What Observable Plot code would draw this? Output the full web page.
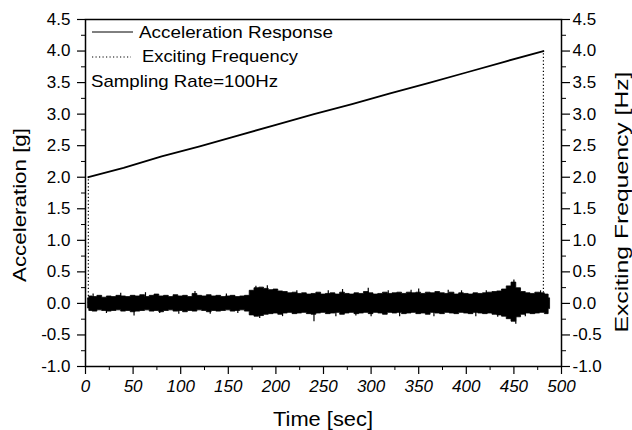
<!DOCTYPE html>
<html>
<head>
<meta charset="utf-8">
<script src="https://cdn.jsdelivr.net/npm/d3@7"></script>
<script src="https://cdn.jsdelivr.net/npm/@observablehq/plot@0.6"></script>
<style>
  html, body { margin: 0; padding: 0; background: white; }
</style>
</head>
<body>
<div id="chart"></div>
<script>
// ---- Data ----
// Acceleration response (100 Hz record) drawn as its visible envelope
const accTime = [3, 5, 10, 15, 20, 25, 30, 35, 40, 45, 50, 55, 60, 65, 70, 75, 80, 85, 90, 95,
  100, 105, 110, 115, 120, 125, 130, 135, 140, 145, 150, 155, 160, 165, 170, 175, 180, 185, 190, 195,
  200, 205, 210, 215, 220, 225, 230, 235, 240, 245, 250, 255, 260, 265, 270, 275, 280, 285, 290, 295,
  300, 305, 310, 315, 320, 325, 330, 335, 340, 345, 350, 355, 360, 365, 370, 375, 380, 385, 390, 395,
  400, 405, 410, 415, 420, 425, 430, 435, 440, 445, 450, 455, 460, 465, 470, 475, 480, 485, 488];
const accUpper = [0.08, 0.11, 0.10, 0.12, 0.09, 0.11, 0.10, 0.12, 0.11, 0.10, 0.12, 0.11, 0.13, 0.10, 0.12, 0.14, 0.11, 0.12, 0.10, 0.13,
  0.11, 0.12, 0.10, 0.15, 0.12, 0.11, 0.13, 0.11, 0.12, 0.10, 0.11, 0.12, 0.10, 0.11, 0.12, 0.20, 0.24, 0.25, 0.23, 0.21,
  0.22, 0.19, 0.18, 0.16, 0.17, 0.15, 0.16, 0.14, 0.15, 0.17, 0.14, 0.15, 0.16, 0.14, 0.17, 0.15, 0.14, 0.16, 0.15, 0.18,
  0.16, 0.14, 0.15, 0.17, 0.15, 0.16, 0.17, 0.15, 0.17, 0.16, 0.17, 0.15, 0.17, 0.16, 0.18, 0.16, 0.15, 0.17, 0.14, 0.16,
  0.15, 0.14, 0.16, 0.15, 0.16, 0.17, 0.18, 0.19, 0.22, 0.27, 0.33, 0.24, 0.18, 0.16, 0.15, 0.17, 0.16, 0.14, 0.08];
const accLower = [-0.08, -0.12, -0.13, -0.11, -0.12, -0.13, -0.12, -0.11, -0.13, -0.12, -0.14, -0.13, -0.12, -0.11, -0.13, -0.12, -0.14, -0.12, -0.11, -0.13,
  -0.12, -0.14, -0.12, -0.13, -0.11, -0.12, -0.14, -0.12, -0.13, -0.12, -0.11, -0.13, -0.12, -0.11, -0.13, -0.19, -0.21, -0.20, -0.18, -0.17,
  -0.16, -0.18, -0.16, -0.15, -0.17, -0.16, -0.15, -0.17, -0.18, -0.16, -0.15, -0.17, -0.16, -0.15, -0.18, -0.16, -0.15, -0.17, -0.16, -0.15,
  -0.17, -0.15, -0.16, -0.18, -0.15, -0.16, -0.15, -0.17, -0.16, -0.15, -0.17, -0.16, -0.18, -0.15, -0.16, -0.17, -0.15, -0.16, -0.17, -0.15,
  -0.16, -0.17, -0.15, -0.16, -0.17, -0.16, -0.18, -0.19, -0.21, -0.25, -0.29, -0.22, -0.18, -0.16, -0.17, -0.16, -0.15, -0.17, -0.09];

// Individual spikes visible on the band edges (time, peak g)
const spikeTime  = [8, 22, 37, 51, 63, 78, 98, 115, 131, 148, 160, 179, 183, 191, 207, 222, 240, 255, 263, 270, 284, 297, 300, 318, 330, 342, 350, 366, 381, 395, 410, 421, 433, 450, 452, 462, 478];
const spikeValue = [0.15, -0.16, 0.16, -0.20, 0.17, -0.16, -0.17, 0.19, -0.17, 0.15, -0.16, 0.27, -0.24, 0.28, -0.21, 0.20, -0.29, 0.20, -0.21, 0.22, -0.20, 0.24, -0.21, 0.20, -0.21, 0.21, 0.23, -0.21, 0.21, 0.20, -0.21, 0.20, -0.22, 0.37, -0.33, -0.21, 0.20];

// Exciting frequency sweep (Hz)
const freqTime  = [3, 40, 80, 120, 160, 200, 240, 280, 320, 360, 400, 440, 481];
const freqValue = [2.00, 2.15, 2.33, 2.49, 2.66, 2.83, 3.00, 3.16, 3.33, 3.49, 3.66, 3.83, 4.00];

// Axes
const xTicks = [0, 50, 100, 150, 200, 250, 300, 350, 400, 450, 500];
const xMinor = [25, 75, 125, 175, 225, 275, 325, 375, 425, 475];
const yTicks = [-1.0, -0.5, 0.0, 0.5, 1.0, 1.5, 2.0, 2.5, 3.0, 3.5, 4.0, 4.5];
const yMinor = [-0.75, -0.25, 0.25, 0.75, 1.25, 1.75, 2.25, 2.75, 3.25, 3.75, 4.25];

// Text
const xTitle = "Time [sec]";
const yTitleLeft = "Acceleration [g]";
const yTitleRight = "Exciting Frequency [Hz]";
const legendSeries = ["Acceleration Response", "Exciting Frequency"];
const legendNote = "Sampling Rate=100Hz";

// ---- Build tables ----
const acc = accTime.map((t, i) => ({t, hi: accUpper[i], lo: accLower[i]}));
const spikes = spikeTime.map((t, i) => ({t, v: spikeValue[i]}));
const ramp = freqTime.map((t, i) => ({t, f: freqValue[i]}));
const drops = [ramp[0], ramp[ramp.length - 1]];

const font = "'Liberation Sans', Arial, Helvetica, sans-serif";

const chart = Plot.plot({
  width: 632,
  height: 430,
  marginLeft: 85,
  marginRight: 71,
  marginTop: 19,
  marginBottom: 64,
  x: {domain: [0, 500]},
  y: {domain: [-1, 4.5]},
  style: {fontFamily: font, fontSize: "17px", color: "black", background: "white", overflow: "visible"},
  marks: [
    Plot.areaY(acc, {x: "t", y1: "lo", y2: "hi", fill: "black", stroke: "black", strokeWidth: 0.8, curve: "step"}),
    Plot.ruleX(spikes, {x: "t", y1: 0, y2: "v", stroke: "black", strokeWidth: 1.2}),
    Plot.ruleX(drops, {x: "t", y1: 0, y2: "f", stroke: "black", strokeWidth: 1.2, strokeDasharray: "1.2,2.3"}),
    Plot.line(ramp, {x: "t", y: "f", stroke: "black", strokeWidth: 1.8}),
    Plot.axisX({ticks: xTicks, tickSize: 8, tickPadding: 5, tickFormat: d => String(d), label: null, strokeWidth: 1.2}),
    Plot.axisX({ticks: xMinor, tickSize: 4, tickFormat: () => "", label: null}),
    Plot.axisY({anchor: "left", ticks: yTicks, tickSize: 8, tickPadding: 7, tickFormat: d => d.toFixed(1), label: null, strokeWidth: 1.2}),
    Plot.axisY({anchor: "left", ticks: yMinor, tickSize: 4, tickFormat: () => "", label: null}),
    Plot.axisY({anchor: "right", ticks: yTicks, tickSize: 8, tickPadding: 3, tickFormat: d => d.toFixed(1), label: null, strokeWidth: 1.2}),
    Plot.axisY({anchor: "right", ticks: yMinor, tickSize: 4, tickFormat: () => "", label: null}),
    Plot.frame({stroke: "black", strokeWidth: 1.5})
  ]
});

document.getElementById("chart").appendChild(chart);

const svg = d3.select(chart);
// italic x tick labels as in the reference
svg.selectAll('g[aria-label="x-axis tick label"] text').style("font-style", "italic");

// ---- Titles and legend ----
const g = svg.append("g").attr("font-family", font).attr("fill", "black").attr("text-anchor", "start");

g.append("text").text(xTitle)
  .attr("x", 323).attr("y", 426).attr("text-anchor", "middle")
  .attr("font-size", 20).attr("textLength", 100).attr("lengthAdjust", "spacingAndGlyphs");

g.append("text").text(yTitleLeft)
  .attr("transform", "translate(26,205) rotate(-90)").attr("text-anchor", "middle")
  .attr("font-size", 19).attr("textLength", 154).attr("lengthAdjust", "spacingAndGlyphs");

g.append("text").text(yTitleRight)
  .attr("transform", "translate(628,202) rotate(-90)").attr("text-anchor", "middle")
  .attr("font-size", 19).attr("textLength", 261).attr("lengthAdjust", "spacingAndGlyphs");

// legend
g.append("line").attr("x1", 92).attr("x2", 133).attr("y1", 32).attr("y2", 32)
  .attr("stroke", "black").attr("stroke-width", 1);
g.append("text").text(legendSeries[0]).attr("x", 139).attr("y", 38).attr("text-anchor", "start")
  .attr("font-size", 17).attr("textLength", 194).attr("lengthAdjust", "spacingAndGlyphs");

g.append("line").attr("x1", 92).attr("x2", 131).attr("y1", 57).attr("y2", 57)
  .attr("stroke", "black").attr("stroke-width", 1.2).attr("stroke-dasharray", "1.2,2.3");
g.append("text").text(legendSeries[1]).attr("x", 142).attr("y", 62).attr("text-anchor", "start")
  .attr("font-size", 17).attr("textLength", 156).attr("lengthAdjust", "spacingAndGlyphs");

g.append("text").text(legendNote).attr("x", 91).attr("y", 87).attr("text-anchor", "start")
  .attr("font-size", 17).attr("textLength", 187).attr("lengthAdjust", "spacingAndGlyphs");
</script>
</body>
</html>
